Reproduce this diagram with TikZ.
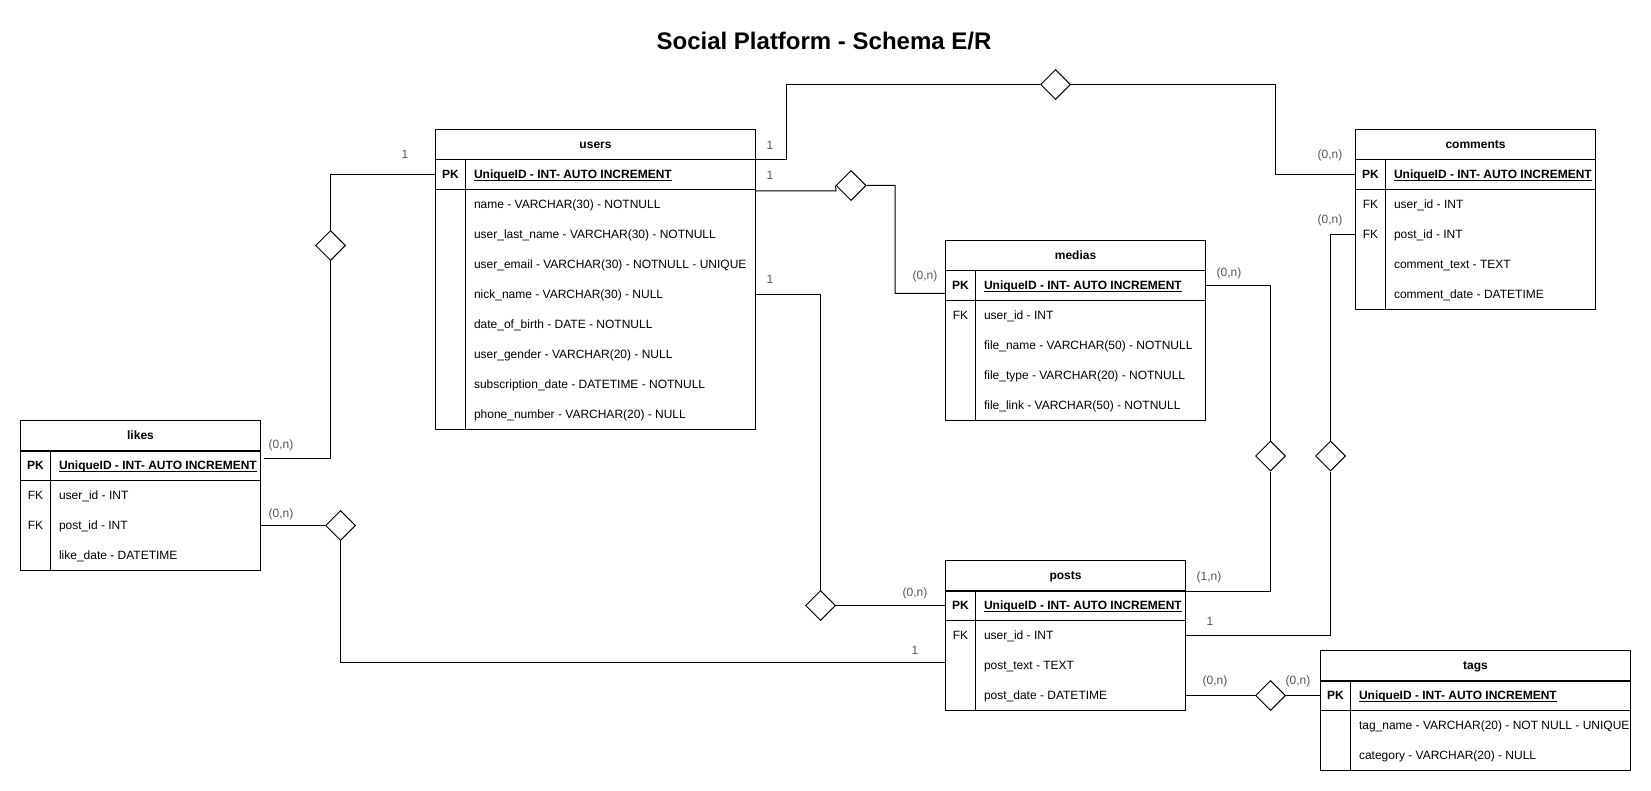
\documentclass[tikz,border=0pt]{standalone}
\usepackage{fontspec}
\setmainfont{Liberation Sans}
\usetikzlibrary{shapes.geometric,calc}
\definecolor{labcol}{RGB}{85,85,85}
\newcommand{\pkfield}{\underline{\smash{\bfseries UniqueID - INT- AUTO INCREMENT}}}

\begin{document}
\begin{tikzpicture}[x=1pt,y=-1pt,line width=1pt,inner sep=0pt,font=\fontsize{12}{14}\selectfont,
  txt/.style={text height=8.6,text depth=0},
  hd/.style={txt,draw,minimum width=#1,minimum height=30,font=\fontsize{12}{14}\selectfont\bfseries},
  ky/.style={txt,minimum width=30,minimum height=30},
  pk/.style={ky,font=\fontsize{12}{14}\selectfont\bfseries},
  attr/.style={txt,anchor=west},
  relship/.style={diamond,draw,fill=white,minimum width=30,minimum height=30},
  lbl/.style={txt,text=labcol}]
  \useasboundingbox (0,0) rectangle (1651,791);
  \node[font=\fontsize{24}{28}\selectfont\bfseries] (title) at (824,41) {Social Platform - Schema E/R};

  % likes
  \node[hd=240] (likes) at (140.5,435.5) {likes};
  \draw (likes.south west) rectangle (260.5,570.5) (50.5,450.5) -- (50.5,570.5) (20.5,480.5) -- (260.5,480.5);
  \node[pk] (likes-k) at (35.5,465.5) {PK};
  \node[attr] (likes-pk) at (58.5,465.5) {\pkfield};
  \foreach \i in {1,2} \node[ky] (likes-f\i) at (35.5,465.5+30*\i) {FK};
  \foreach \t [count=\i] in {user\_id - INT, post\_id - INT, like\_date - DATETIME}
    \node[attr] (likes-\i) at (58.5,465.5+30*\i) {\t};

  % users
  \node[hd=320] (users) at (595.5,144.5) {users};
  \draw (users.south west) rectangle (755.5,429.5) (465.5,159.5) -- (465.5,429.5) (435.5,189.5) -- (755.5,189.5);
  \node[pk] (users-k) at (450.5,174.5) {PK};
  \node[attr] (users-pk) at (473.5,174.5) {\pkfield};
  \foreach \t [count=\i] in {name - VARCHAR(30) - NOTNULL, user\_last\_name - VARCHAR(30) - NOTNULL,
      user\_email - VARCHAR(30) - NOTNULL - UNIQUE, nick\_name - VARCHAR(30) - NULL,
      date\_of\_birth - DATE - NOTNULL, user\_gender - VARCHAR(20) - NULL,
      subscription\_date - DATETIME - NOTNULL, phone\_number - VARCHAR(20) - NULL}
    \node[attr] (users-\i) at (473.5,174.5+30*\i) {\t};

  % medias
  \node[hd=260] (medias) at (1075.5,255.5) {medias};
  \draw (medias.south west) rectangle (1205.5,420.5) (975.5,270.5) -- (975.5,420.5) (945.5,300.5) -- (1205.5,300.5);
  \node[pk] (medias-k) at (960.5,285.5) {PK};
  \node[attr] (medias-pk) at (983.5,285.5) {\pkfield};
  \node[ky] (medias-f1) at (960.5,315.5) {FK};
  \foreach \t [count=\i] in {user\_id - INT, file\_name - VARCHAR(50) - NOTNULL,
      file\_type - VARCHAR(20) - NOTNULL, file\_link - VARCHAR(50) - NOTNULL}
    \node[attr] (medias-\i) at (983.5,285.5+30*\i) {\t};

  % comments
  \node[hd=240] (comments) at (1475.5,144.5) {comments};
  \draw (comments.south west) rectangle (1595.5,309.5) (1385.5,159.5) -- (1385.5,309.5) (1355.5,189.5) -- (1595.5,189.5);
  \node[pk] (comments-k) at (1370.5,174.5) {PK};
  \node[attr] (comments-pk) at (1393.5,174.5) {\pkfield};
  \foreach \i in {1,2} \node[ky] (comments-f\i) at (1370.5,174.5+30*\i) {FK};
  \foreach \t [count=\i] in {user\_id - INT, post\_id - INT, comment\_text - TEXT, comment\_date - DATETIME}
    \node[attr] (comments-\i) at (1393.5,174.5+30*\i) {\t};

  % posts
  \node[hd=240] (posts) at (1065.5,575.5) {posts};
  \draw (posts.south west) rectangle (1185.5,710.5) (975.5,590.5) -- (975.5,710.5) (945.5,620.5) -- (1185.5,620.5);
  \node[pk] (posts-k) at (960.5,605.5) {PK};
  \node[attr] (posts-pk) at (983.5,605.5) {\pkfield};
  \node[ky] (posts-f1) at (960.5,635.5) {FK};
  \foreach \t [count=\i] in {user\_id - INT, post\_text - TEXT, post\_date - DATETIME}
    \node[attr] (posts-\i) at (983.5,605.5+30*\i) {\t};

  % tags
  \node[hd=310] (tags) at (1475.5,665.5) {tags};
  \draw (tags.south west) rectangle (1630.5,770.5) (1350.5,680.5) -- (1350.5,770.5) (1320.5,710.5) -- (1630.5,710.5);
  \node[pk] (tags-k) at (1335.5,695.5) {PK};
  \node[attr] (tags-pk) at (1358.5,695.5) {\pkfield};
  \foreach \t [count=\i] in {tag\_name - VARCHAR(20) - NOT NULL - UNIQUE, category - VARCHAR(20) - NULL}
    \node[attr] (tags-\i) at (1358.5,695.5+30*\i) {\t};

  % relationships
  \node[relship] (r1) at (330.5,245.5) {};
  \node[relship] (r2) at (340.5,525.5) {};
  \node[relship] (r3) at (1055.5,84.5) {};
  \node[relship] (r4) at (851,185.5) {};
  \node[relship] (r5) at (820.5,605.5) {};
  \node[relship] (r6) at (1270.5,456) {};
  \node[relship] (r7) at (1330.5,456) {};
  \node[relship] (r8) at (1270.5,695.5) {};

  \draw (users-k.west) -| (r1.north) (r1.south) |- ($(likes.south east)+(3,7)$);
  \draw (likes.east |- likes-2) -- (r2) (r2.south) |- ($(posts.west |- posts-2)+(0,-3)$);
  \draw (users.south east) -- ++(30.5,0) |- (r3) (r3) -| ($(comments-k.west)+(-80,0)$) -- (comments-k.west);
  \draw ($(users.south east)+(0,31)$) -- ++(80,0) -- (r4.west) (r4.east) -| ($(medias-k.west)+(-50,8)$) -- ($(medias-k.west)+(0,8)$);
  \draw (users.east |- users-4) -| (r5.north) (r5) -- (posts-k.west);
  \draw (medias.east |- medias-k) -| (r6.north) (r6.south) |- (posts.south east);
  \draw (comments.west |- comments-2) -| (r7.north) (r7.south) |- (posts.east |- posts-1);
  \draw (posts.east |- posts-3) -- (r8) -- (tags-k.west);

  % cardinalities
  \foreach \x/\y/\t [count=\i] in {405/154/1, 281/444/{(0,n)}, 281/513/{(0,n)}, 915/650/1,
      770/145/1, 1330/154/{(0,n)}, 770/175/1, 925/275/{(0,n)}, 770/279/1, 915/592/{(0,n)},
      1229/272/{(0,n)}, 1209/576/{(1,n)}, 1330/219/{(0,n)}, 1210/621/1, 1215/680/{(0,n)}, 1298/680/{(0,n)}}
    \node[lbl] (c\i) at (\x,\y) {\t};
\end{tikzpicture}
\end{document}
